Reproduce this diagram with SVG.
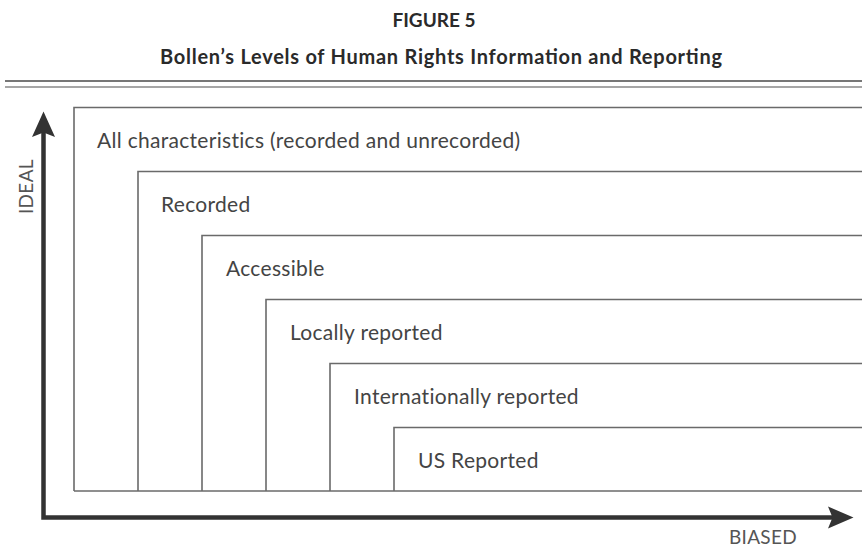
<svg xmlns="http://www.w3.org/2000/svg" width="862" height="553" viewBox="0 0 862 553">
<style>
.title{font-family:Lato,"Liberation Sans",sans-serif;font-weight:bold;fill:#2a2a2a;text-anchor:middle}
.lvl{fill:none;stroke:#6a6a6a;stroke-width:1.6}
.lbl{font-family:Lato,"Liberation Sans",sans-serif;font-size:21px;letter-spacing:0.3px;fill:#444}
.ax{font-family:Lato,"Liberation Sans",sans-serif;font-size:19px;letter-spacing:0.3px;fill:#555}
.axis{fill:none;stroke:#333;stroke-width:4.5;stroke-linejoin:miter}
</style>
<rect width="862" height="553" fill="#fff"/>
<text class="title" x="434" y="27" font-size="19">FIGURE 5</text>
<text class="title" x="441" y="64" font-size="20" textLength="562" lengthAdjust="spacing">Bollen’s Levels of Human Rights Information and Reporting</text>
<line x1="5" y1="81" x2="862" y2="81" stroke="#777" stroke-width="2.2"/>
<line x1="5" y1="87" x2="862" y2="87" stroke="#888" stroke-width="1.6"/>
<g id="n1"><path class="lvl" d="M870 107.5 H74 V491"/><text class="lbl" x="97" y="148">All characteristics (recorded and unrecorded)</text></g>
<g id="n2"><path class="lvl" d="M870 171.5 H138 V491"/><text class="lbl" x="161" y="212">Recorded</text></g>
<g id="n3"><path class="lvl" d="M870 235.5 H202 V491"/><text class="lbl" x="226" y="276">Accessible</text></g>
<g id="n4"><path class="lvl" d="M870 299.5 H266 V491"/><text class="lbl" x="290" y="340">Locally reported</text></g>
<g id="n5"><path class="lvl" d="M870 363.5 H330 V491"/><text class="lbl" x="354" y="404">Internationally reported</text></g>
<g id="n6"><path class="lvl" d="M870 427.5 H394 V491"/><text class="lbl" x="418" y="468">US Reported</text></g>
<line class="lvl" x1="74" y1="491" x2="870" y2="491"/>
<g id="connectors">
<path class="axis" d="M43.5 130 V517.5 H835"/>
<path d="M43.5 111.5 L55 137 L43.5 132.5 L32 137 Z" fill="#333"/>
<path d="M853.5 517.5 L828 506.5 L832.5 517.5 L828 528.5 Z" fill="#333"/>
</g>
<text class="ax" x="729" y="544">BIASED</text>
<text class="ax" transform="translate(33 214) rotate(-90)">IDEAL</text>
</svg>
